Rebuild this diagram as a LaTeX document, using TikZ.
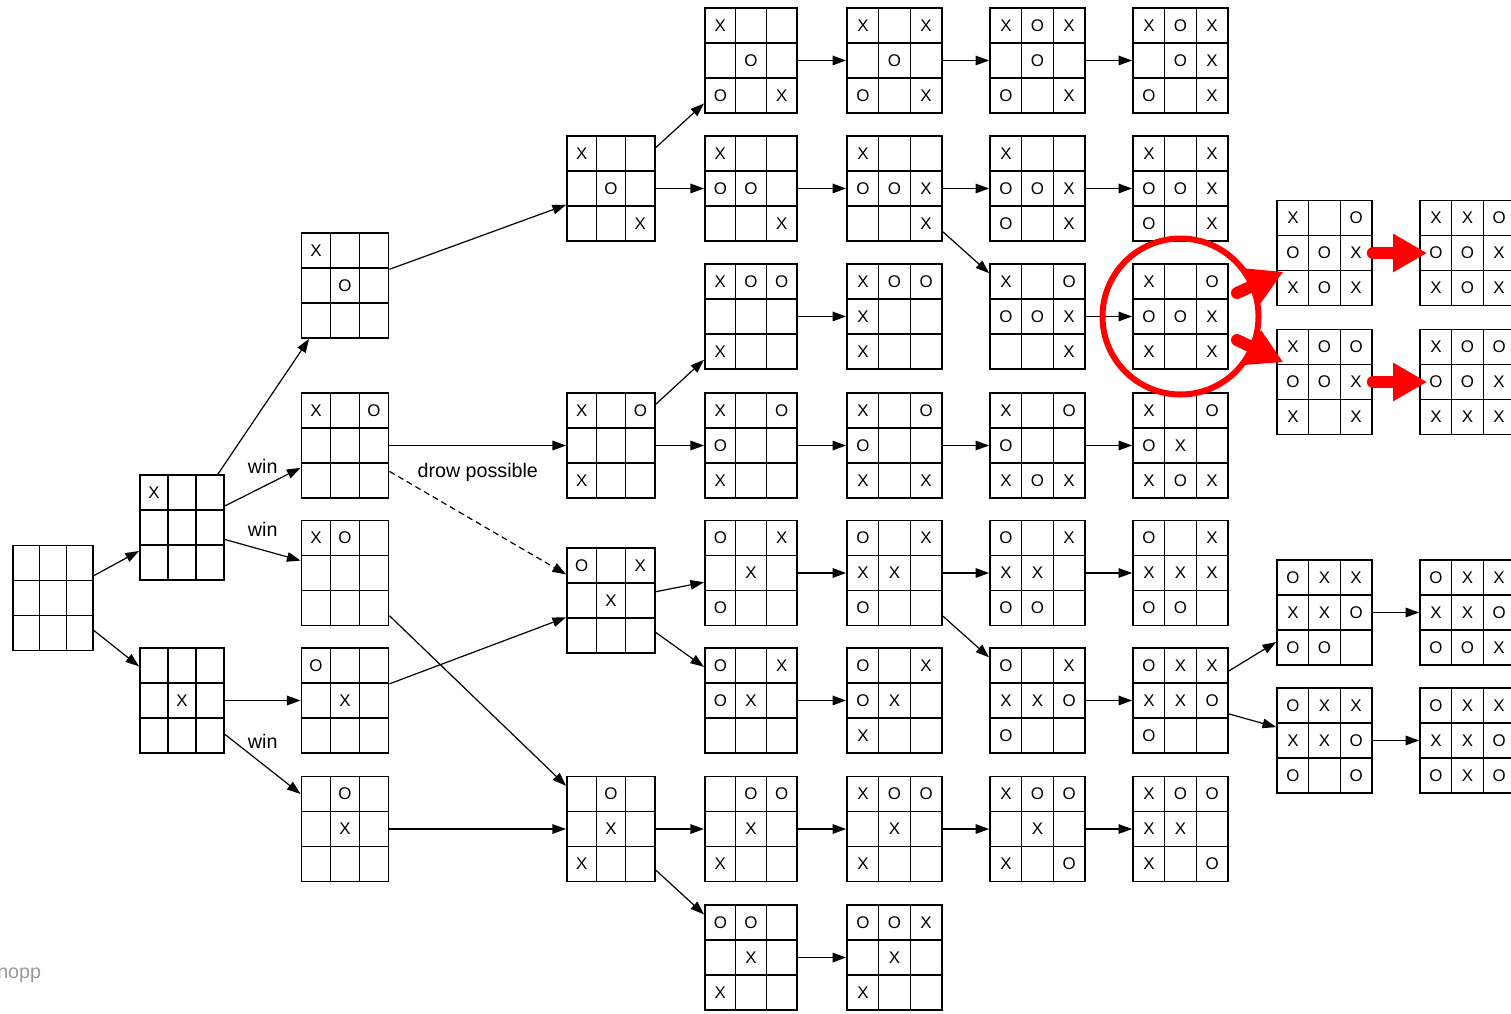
\documentclass[tikz,border=0pt]{standalone}
\usepackage{fontspec}
\setmainfont{Liberation Sans}
\usetikzlibrary{matrix,arrows.meta}
\tikzset{
  cell/.style={draw, line width=0.35mm, minimum height=8.75mm, inner sep=0pt,
    anchor=center, font=\fontsize{12}{12}\selectfont},
  board/.style={matrix of nodes, nodes in empty cells, inner sep=0pt,
    column sep=-0.35mm, row sep=-0.35mm, nodes={cell, minimum width=#1}},
  board/.default=7.9mm,
  edge/.style={-{Triangle[length=3.4mm,width=2.4mm]}, line width=0.3mm},
  lbl/.style={font=\fontsize{14}{14}\selectfont},
  ring/.style={circle, draw=red, line width=1.5mm, minimum size=39mm, inner sep=0pt},
  hot/.style={-{Triangle[length=8.5mm,width=9mm]}, red, line width=3mm,
    line cap=round, shorten >=-2mm}
}
\begin{document}
\begin{tikzpicture}[x=0.25mm, y=-0.25mm]
  \useasboundingbox (0,0) rectangle (1511,1013);
  \matrix (R) [board=6.67mm] at (53,598) {&&\\&&\\&&\\};
  \matrix (A) [board=7mm] at (182,527.5) {X&&\\&&\\&&\\};
  \matrix (B) [board=7mm] at (182,700.5) {&&\\&X&\\&&\\};
  \matrix (C1) [board=7.25mm] at (345,285.5) {X&&\\&O&\\&&\\};
  \matrix (C2) [board=7.25mm] at (345,445.5) {X&&O\\&&\\&&\\};
  \matrix (C3) [board=7.25mm] at (345,573) {X&O&\\&&\\&&\\};
  \matrix (C4) [board=7.25mm] at (345,700.5) {O&&\\&X&\\&&\\};
  \matrix (C5) [board=7.25mm] at (345,829) {&O&\\&X&\\&&\\};
  \matrix (D1) [board=7.33mm] at (611,188.5) {X&&\\&O&\\&&X\\};
  \matrix (D2) [board=7.33mm] at (611,445.5) {X&&O\\&&\\X&&\\};
  \matrix (D3) [board=7.33mm] at (611,600.5) {O&&X\\&X&\\&&\\};
  \matrix (D4) [board=7.33mm] at (611,829) {&O&\\&X&\\X&&\\};
  \matrix (E1) [board=7.67mm] at (751,60.5) {X&&\\&O&\\O&&X\\};
  \matrix (E2) [board=7.67mm] at (751,188.5) {X&&\\O&O&\\&&X\\};
  \matrix (E3) [board=7.67mm] at (751,316.5) {X&O&O\\&&\\X&&\\};
  \matrix (E4) [board=7.67mm] at (751,445.5) {X&&O\\O&&\\X&&\\};
  \matrix (E5) [board=7.67mm] at (751,573) {O&&X\\&X&\\O&&\\};
  \matrix (E6) [board=7.67mm] at (751,700.5) {O&&X\\O&X&\\&&\\};
  \matrix (E7) [board=7.67mm] at (751,829) {&O&O\\&X&\\X&&\\};
  \matrix (E8) [board=7.67mm] at (751,957.5) {O&O&\\&X&\\X&&\\};
  \matrix (F1) [board] at (894.5,60.5) {X&&X\\&O&\\O&&X\\};
  \matrix (F2) [board] at (894.5,188.5) {X&&\\O&O&X\\&&X\\};
  \matrix (F3) [board] at (894.5,316.5) {X&O&O\\X&&\\X&&\\};
  \matrix (F4) [board] at (894.5,445.5) {X&&O\\O&&\\X&&X\\};
  \matrix (F5) [board] at (894.5,573) {O&&X\\X&X&\\O&&\\};
  \matrix (F6) [board] at (894.5,700.5) {O&&X\\O&X&\\X&&\\};
  \matrix (F7) [board] at (894.5,829) {X&O&O\\&X&\\X&&\\};
  \matrix (F8) [board] at (894.5,957.5) {O&O&X\\&X&\\X&&\\};
  \matrix (G1) [board] at (1037.5,60.5) {X&O&X\\&O&\\O&&X\\};
  \matrix (G2) [board] at (1037.5,188.5) {X&&\\O&O&X\\O&&X\\};
  \matrix (G3) [board] at (1037.5,316.5) {X&&O\\O&O&X\\&&X\\};
  \matrix (G4) [board] at (1037.5,445.5) {X&&O\\O&&\\X&O&X\\};
  \matrix (G5) [board] at (1037.5,573) {O&&X\\X&X&\\O&O&\\};
  \matrix (G6) [board] at (1037.5,700.5) {O&&X\\X&X&O\\O&&\\};
  \matrix (G7) [board] at (1037.5,829) {X&O&O\\&X&\\X&&O\\};
  \matrix (H1) [board] at (1180.5,60.5) {X&O&X\\&O&X\\O&&X\\};
  \matrix (H2) [board] at (1180.5,188.5) {X&&X\\O&O&X\\O&&X\\};
  \matrix (H3) [board] at (1180.5,316.5) {X&&O\\O&O&X\\X&&X\\};
  \matrix (H4) [board] at (1180.5,445.5) {X&&O\\O&X&\\X&O&X\\};
  \matrix (H5) [board] at (1180.5,573) {O&&X\\X&X&X\\O&O&\\};
  \matrix (H6) [board] at (1180.5,700.5) {O&X&X\\X&X&O\\O&&\\};
  \matrix (H7) [board] at (1180.5,829) {X&O&O\\X&X&\\X&&O\\};
  \matrix (I1) [board] at (1324.5,253) {X&&O\\O&O&X\\X&O&X\\};
  \matrix (I2) [board] at (1324.5,382) {X&O&O\\O&O&X\\X&&X\\};
  \matrix (I3) [board] at (1324.5,612.5) {O&X&X\\X&X&O\\O&O&\\};
  \matrix (I4) [board] at (1324.5,740.5) {O&X&X\\X&X&O\\O&&O\\};
  \matrix (J1) [board] at (1467.5,253) {X&X&O\\O&O&X\\X&O&X\\};
  \matrix (J2) [board] at (1467.5,382) {X&O&O\\O&O&X\\X&X&X\\};
  \matrix (J3) [board] at (1467.5,612.5) {O&X&X\\X&X&O\\O&O&X\\};
  \matrix (J4) [board] at (1467.5,740.5) {O&X&X\\X&X&O\\O&X&O\\};

  \draw[edge] (R) -- (A); \draw[edge] (R) -- (B);
  \draw[edge] (A) -- (C1);
  \draw[edge] (A) -- (C2) node[lbl, midway, above=2mm] (win1) {win};
  \draw[edge] (A) -- (C3) node[lbl, midway, above=2mm] (win2) {win};
  \draw[edge] (B) -- (C4);
  \draw[edge] (B) -- (C5) node[lbl, midway, above=2.5mm] (win3) {win};
  \draw[edge] (C1) -- (D1); \draw[edge] (C2) -- (D2);
  \draw[edge, dash pattern=on 1.5mm off 1mm] (C2) -- (D3)
    node[lbl, midway, above=9mm] (drow) {drow possible};
  \draw[edge] (C4) -- (D3); \draw[edge] (C3) -- (D4); \draw[edge] (C5) -- (D4);
  \draw[edge] (D1) -- (E1); \draw[edge] (D1) -- (E2);
  \draw[edge] (D2) -- (E3); \draw[edge] (D2) -- (E4);
  \draw[edge] (D3) -- (E5); \draw[edge] (D3) -- (E6);
  \draw[edge] (D4) -- (E7); \draw[edge] (D4) -- (E8);
  \draw[edge] (E1) -- (F1); \draw[edge] (E2) -- (F2);
  \draw[edge] (E3) -- (F3); \draw[edge] (E4) -- (F4);
  \draw[edge] (E5) -- (F5); \draw[edge] (E6) -- (F6);
  \draw[edge] (E7) -- (F7); \draw[edge] (E8) -- (F8);
  \draw[edge] (F1) -- (G1); \draw[edge] (F2) -- (G2); \draw[edge] (F2) -- (G3);
  \draw[edge] (F4) -- (G4); \draw[edge] (F5) -- (G5); \draw[edge] (F5) -- (G6);
  \draw[edge] (F7) -- (G7);
  \draw[edge] (G1) -- (H1); \draw[edge] (G2) -- (H2); \draw[edge] (G3) -- (H3);
  \draw[edge] (G4) -- (H4); \draw[edge] (G5) -- (H5); \draw[edge] (G6) -- (H6);
  \draw[edge] (G7) -- (H7);
  \draw[edge] (H6) -- (I3); \draw[edge] (H6) -- (I4);
  \draw[edge] (I3) -- (J3); \draw[edge] (I4) -- (J4);

  \node[ring] (ring) at (H3) {};
  \coordinate (s1) at (1237,293);
  \coordinate (s2) at (1237,340);
  \draw[hot] (s1) -- (I1); \draw[hot] (s2) -- (I2);
  \draw[hot] (I1) -- (J1); \draw[hot] (I2) -- (J2);

  \node[lbl, text=black!40, anchor=base west, inner sep=0pt] (sig) at (-3,978) {nopp};
\end{tikzpicture}
\end{document}
